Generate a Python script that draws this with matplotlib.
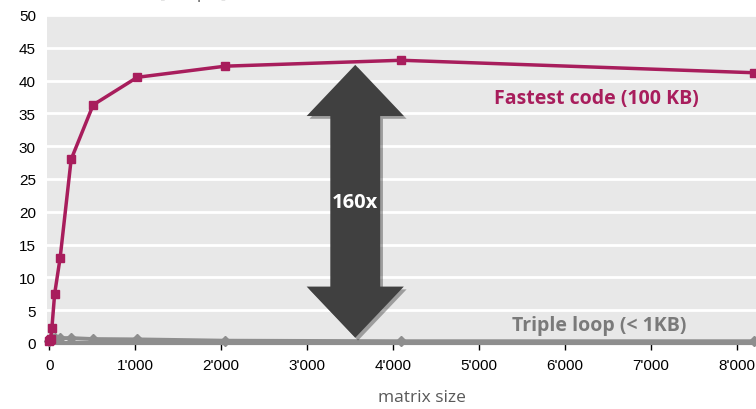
import numpy as np
import matplotlib.pyplot as plt
from matplotlib.patches import Polygon
import matplotlib.patheffects as pe

# data
sizes = [4, 8, 16, 32, 64, 128, 256, 512, 1024, 2048, 4096, 8192]
fastest = [0.3, 0.4, 0.6, 2.3, 7.5, 13.0, 28.0, 36.3, 40.5, 42.2, 43.1, 41.2]
triple = [0.3, 0.5, 0.7, 0.75, 0.75, 0.75, 0.75, 0.6, 0.55, 0.35, 0.27, 0.27]
xticks = [0, 1000, 2000, 3000, 4000, 5000, 6000, 7000, 8000]
xticklabels = ["0", "1'000", "2'000", "3'000", "4'000", "5'000", "6'000", "7'000", "8'000"]
yticks = [0, 5, 10, 15, 20, 25, 30, 35, 40, 45, 50]

red = '#A81D5C'
grey = '#8E8E8E'

fig = plt.figure(figsize=(7.56, 4.10), dpi=100)
ax = fig.add_axes([47/756, 1-344/410, 1-47/756, 328/410])
ax.set_facecolor('#E8E8E8')

ax.set_xlim(-25, 8221)
ax.set_ylim(0, 50)
ax.set_yticks(yticks)
ax.set_xticks(xticks)
ax.set_xticklabels(xticklabels)
ax.grid(axis='y', color='white', linewidth=2)
ax.set_axisbelow(True)
for s in ['top', 'right', 'left']:
    ax.spines[s].set_visible(False)
ax.spines['bottom'].set_color(grey)
ax.spines['bottom'].set_linewidth(3)
ax.tick_params(axis='y', length=0, labelsize=11, pad=8)
ax.tick_params(axis='x', length=5, width=1, color='black', labelsize=11, pad=6, direction='out')
for lab in ax.get_xticklabels() + ax.get_yticklabels():
    lab.set_family('Liberation Sans')

ax.plot(sizes, triple, color=grey, lw=2.8, marker='D', ms=5, clip_on=False, zorder=3)
ax.plot(sizes, fastest, color=red, lw=2.5, marker='s', ms=6, clip_on=False, zorder=4)

# double arrow
cx = 3560
top = 42.4
bot = 0.8
hw = 565   # half head width
sw = 290   # half shaft width
hl = 7.8   # head length
pts = [(cx, top), (cx + hw, top - hl), (cx + sw, top - hl), (cx + sw, bot + hl),
       (cx + hw, bot + hl), (cx, bot), (cx - hw, bot + hl), (cx - sw, bot + hl),
       (cx - sw, top - hl), (cx - hw, top - hl)]
arrow = Polygon(pts, closed=True, facecolor='#404040', edgecolor='none', zorder=5,
                path_effects=[pe.SimplePatchShadow(offset=(2, -2), alpha=0.35), pe.Normal()])
ax.add_patch(arrow)
ax.text(cx, 21.5, '160x', color='white', fontsize=14.5, fontweight='bold', family='Open Sans',
        ha='center', va='center', zorder=6)

ax.text(6370, 37.4, 'Fastest code (100 KB)', color=red, fontsize=14, fontweight='bold',
        family='Open Sans', ha='center', va='center')
ax.text(6400, 2.8, 'Triple loop (< 1KB)', color='#7A7A7A', fontsize=14, fontweight='bold',
        family='Open Sans', ha='center', va='center')

fig.text(422/756, 1 - 398/410, 'matrix size', color='#595959', fontsize=12.5,
         family='Open Sans', ha='center', va='center')

# title is cut off at the top edge
fig.text(55/756, 1 + 2/410, 'Performance [Gflop/s]', fontsize=12, color='#595959',
         family='Open Sans', ha='left', va='baseline')

plt.savefig('out.png', dpi=100)
